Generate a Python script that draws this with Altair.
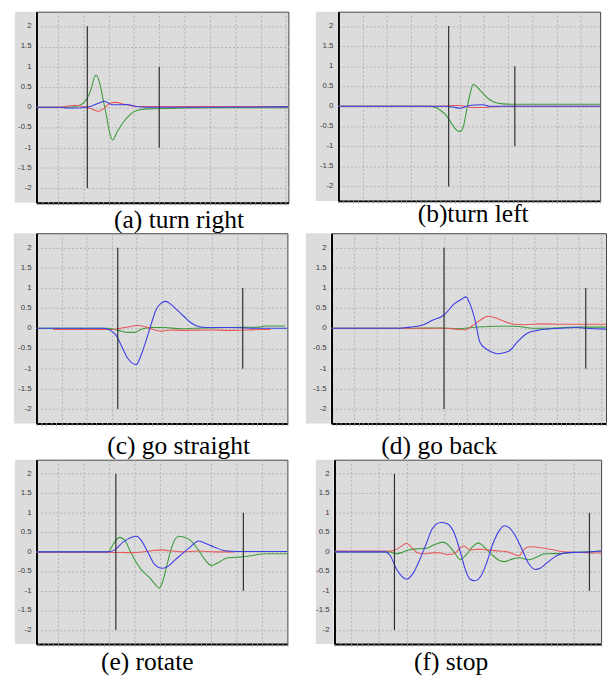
import altair as alt
import pandas as pd

# ---------------- shared axis data ----------------
Y_TICKS = [2, 1.5, 1, 0.5, 0, -0.5, -1, -1.5, -2]
Y_LABELS = ["2", "1.5", "1", "0.5", "0", "-0.5", "-1", "-1.5", "-2"]
X_GRID = [10, 20, 30, 40, 50, 60, 70, 80, 90, 100, 110, 120]
X_MINOR = list(range(0, 124, 2))
SERIES = ["green", "red", "blue"]
COLORS = ["#3c9c3c", "#e65a5a", "#3c3ce6"]
Y_DOMAIN = [-2.36, 2.36]

# ---------------- (a) turn right ----------------
A_GREEN_X = [1.5, 13.8, 17.7, 20.0, 22.2, 23.5, 24.5, 25.2, 26.7, 28.0, 29.1, 30.3, 31.6, 33.2, 35.1, 37.7, 39.7, 42.3, 46.1, 60, 80, 101]
A_GREEN_Y = [0, 0, 0.03, 0.1, 0.3, 0.54, 0.76, 0.79, 0.54, 0.14, -0.19, -0.6, -0.81, -0.63, -0.43, -0.23, -0.12, -0.06, -0.04, -0.02, -0.01, -0.01]
A_RED_X = [1.5, 11.2, 13.8, 17.0, 19.0, 22.8, 26.1, 28.3, 30.6, 32.5, 37.1, 41.0, 60, 101]
A_RED_Y = [0, 0, 0.03, 0.05, 0.03, -0.03, -0.1, -0.02, 0.1, 0.12, 0.06, 0.02, 0.02, 0.02]
A_BLUE_X = [1.5, 11.2, 14, 17.0, 19.5, 22.8, 26.0, 28.3, 30.0, 31.3, 34.5, 37.1, 41.0, 44.8, 60, 101]
A_BLUE_Y = [0, 0, -0.02, -0.02, -0.01, 0.02, 0.1, 0.15, 0.1, 0.06, 0.06, 0.07, 0.02, 0.0, 0.0, 0.01]
A_MARK_X = [21.6, 50]
A_MARK_LO = [-2, -1]
A_MARK_HI = [2, 1]

# ---------------- (b) turn left ----------------
B_GREEN_X = [0, 37.4, 39.4, 42.1, 44.8, 46.9, 48.9, 50.2, 51.6, 52.9, 54.3, 55.6, 57.7, 59.7, 61.7, 64.4, 67.8, 71.8, 108]
B_GREEN_Y = [0, 0, -0.02, -0.1, -0.25, -0.45, -0.6, -0.63, -0.5, -0.1, 0.3, 0.55, 0.45, 0.32, 0.2, 0.1, 0.06, 0.05, 0.05]
B_RED_X = [0, 44.5, 47.2, 50.2, 52.9, 55.6, 61.0, 64, 73.2, 108]
B_RED_Y = [0, 0, 0.02, 0.02, -0.01, -0.03, -0.03, -0.01, 0, 0]
B_BLUE_X = [0, 44.5, 47.5, 50.2, 52.9, 55.6, 59.7, 62.4, 108]
B_BLUE_Y = [0, 0, -0.02, -0.05, 0.0, 0.03, 0.04, 0.0, 0.0]
B_MARK_X = [45.5, 72.8]
B_MARK_LO = [-2, -1]
B_MARK_HI = [2, 1]

# ---------------- (c) go straight ----------------
C_GREEN_X = [0, 28.7, 32.6, 36.6, 39.2, 41.8, 45.7, 50.9, 57.4, 63, 77.0, 88.7, 91.3, 99.1]
C_GREEN_Y = [0, 0, -0.05, -0.1, -0.1, -0.02, 0.02, 0.02, -0.01, 0.0, 0.02, 0.03, 0.06, 0.06]
C_RED_X = [6.6, 30, 35.3, 40.5, 43.7, 49.6, 53.5, 58.7, 69, 77, 90, 93.3]
C_RED_Y = [-0.03, -0.03, 0.02, 0.07, 0.03, -0.07, -0.04, -0.05, -0.04, -0.05, -0.03, -0.03]
C_BLUE_X = [0, 26.1, 28.7, 32.0, 34.0, 35.9, 37.9, 39.8, 41.8, 43.7, 45.7, 47.6, 49.6, 51.6, 53.5, 56.1, 58.7, 61.3, 63.9, 67.8, 77.0, 90, 100]
C_BLUE_Y = [0, 0, -0.03, -0.2, -0.45, -0.7, -0.85, -0.9, -0.65, -0.3, 0.1, 0.45, 0.62, 0.67, 0.6, 0.45, 0.3, 0.15, 0.06, 0.02, 0.02, 0.0, 0.0]
C_MARK_X = [32.4, 82.2]
C_MARK_LO = [-2, -1]
C_MARK_HI = [2, 1]

# ---------------- (d) go back ----------------
D_GREEN_X = [0, 34.7, 47.8, 56.5, 62.3, 68.1, 74, 81.2, 90, 97.2, 103, 110.3, 122]
D_GREEN_Y = [0, 0, 0.01, -0.01, 0.02, 0.04, 0.05, 0.05, 0.0, 0.0, 0.02, 0.03, 0.03]
D_RED_X = [0, 50.7, 55.1, 59.4, 62.3, 66, 69.6, 72.5, 76.9, 81.2, 85.6, 88.5, 92.8, 103, 122]
D_RED_Y = [0, 0, -0.02, -0.04, 0.05, 0.2, 0.3, 0.27, 0.17, 0.1, 0.09, 0.1, 0.11, 0.1, 0.1]
D_BLUE_X = [0, 30.3, 34.7, 39.8, 44.9, 50, 54.4, 58, 59.7, 61.6, 63.8, 66, 68.9, 71.8, 73.7, 76.9, 79.3, 82.7, 87, 91.4, 95.8, 101.6, 108.8, 113.2, 122]
D_BLUE_Y = [0, 0, 0.03, 0.07, 0.2, 0.33, 0.6, 0.73, 0.78, 0.6, 0.2, -0.35, -0.52, -0.6, -0.63, -0.6, -0.55, -0.33, -0.12, -0.05, -0.02, 0.0, 0.02, 0.0, -0.02]
D_MARK_X = [50, 113]
D_MARK_LO = [-2, -1]
D_MARK_HI = [2, 1]

# ---------------- (e) rotate ----------------
E_GREEN_X = [1.4, 29.6, 31.6, 34.1, 36.1, 38.0, 40.0, 42.5, 45.7, 48.3, 49.6, 50.8, 52.8, 54.7, 57.3, 59.2, 61.8, 65.0, 67.6, 70.1, 72.7, 76.6, 80.4, 85.6, 90.7, 100]
E_GREEN_Y = [0, 0, 0.2, 0.37, 0.3, 0.05, -0.2, -0.45, -0.65, -0.85, -0.93, -0.8, -0.3, 0.15, 0.4, 0.38, 0.3, 0.05, -0.2, -0.35, -0.28, -0.15, -0.14, -0.1, -0.05, -0.05]
E_RED_X = [1.4, 29.6, 39.3, 44.4, 50.8, 53.4, 58.6, 65.0, 71.4, 79.1]
E_RED_Y = [-0.01, -0.01, -0.02, 0.01, 0.05, 0.03, 0.0, 0.02, 0.0, 0.0]
E_BLUE_X = [1.4, 29.6, 32.2, 35.4, 38.6, 40.8, 42.5, 45.1, 47.6, 50.8, 52.8, 56.0, 58.6, 61.8, 65.0, 67.6, 71.4, 75.3, 80.4, 100]
E_BLUE_Y = [0, 0, 0.05, 0.25, 0.37, 0.4, 0.3, 0.0, -0.3, -0.42, -0.38, -0.2, -0.05, 0.12, 0.28, 0.22, 0.12, 0.03, 0.01, 0.01]
E_MARK_X = [32.6, 82.7]
E_MARK_LO = [-2, -1]
E_MARK_HI = [2, 1]

# ---------------- (f) stop ----------------
F_GREEN_X = [4, 24.1, 25.9, 28.2, 30.6, 34.1, 37.0, 39.9, 42.9, 44.6, 47.0, 49.3, 51.7, 54.0, 55.8, 57.5, 60.4, 63.4, 65.1, 68.1, 70.4, 73.9, 76.3, 79.8, 86.8, 90.3, 95.3, 100]
F_GREEN_Y = [0, 0, -0.05, -0.02, 0.05, 0.08, 0.09, 0.18, 0.25, 0.2, 0.0, -0.2, -0.05, 0.15, 0.23, 0.15, -0.05, -0.22, -0.25, -0.18, -0.15, -0.2, -0.15, -0.05, -0.04, -0.01, 0.0, 0.02]
F_RED_X = [4, 24.1, 25.9, 28.2, 30.0, 31.7, 34.1, 36.4, 39.9, 42.3, 44.6, 47.0, 49.3, 50.5, 52.8, 56.3, 58.7, 63.4, 66.3, 69.2, 70.4, 72.8, 75.1, 78.6, 82.1, 86.8, 90.3, 96.2, 100]
F_RED_Y = [0.02, 0.02, 0.05, 0.15, 0.22, 0.12, -0.03, -0.05, -0.02, -0.03, -0.07, -0.05, 0.1, 0.15, 0.05, 0.07, 0.05, 0.02, 0.0, -0.08, -0.1, 0.1, 0.13, 0.1, 0.06, 0.0, -0.01, -0.03, -0.03]
F_BLUE_X = [4, 22.3, 24.1, 26.4, 28.2, 30.0, 32.3, 34.7, 37.0, 39.3, 42.3, 44.6, 47.0, 49.3, 51.1, 52.8, 54.6, 56.9, 58.7, 61.0, 63.4, 65.1, 66.9, 69.2, 71.6, 73.9, 76.3, 78.0, 81.0, 84.5, 88.0, 92.7, 96.2, 100]
F_BLUE_Y = [0, 0, -0.1, -0.45, -0.62, -0.7, -0.55, -0.2, 0.2, 0.6, 0.75, 0.72, 0.5, 0.0, -0.45, -0.7, -0.74, -0.6, -0.3, 0.2, 0.55, 0.67, 0.62, 0.4, 0.05, -0.3, -0.45, -0.42, -0.25, -0.08, -0.02, -0.01, 0.0, 0.02]
F_MARK_X = [25.6, 95.8]
F_MARK_LO = [-2, -1]
F_MARK_HI = [2, 1]

BG = "#dcdcdc"
GRID = "#b2b2b2"


def make_panel(series, mark_x, mark_lo, mark_hi, xdom, w, h, label_w, caption, cap_dx, cap_off):
    rows = []
    for name, (xs, ys) in zip(SERIES, series):
        for x, y in zip(xs, ys):
            rows.append({"s": name, "x": x, "y": y})
    df = pd.DataFrame(rows)
    xscale = alt.Scale(domain=xdom, nice=False, zero=False)
    yscale = alt.Scale(domain=Y_DOMAIN, nice=False, zero=False)
    grid_vals = [v for v in X_GRID if xdom[0] < v < xdom[1]]
    minor_vals = [v for v in X_MINOR if xdom[0] <= v <= xdom[1]]
    xaxis = alt.Axis(values=grid_vals, grid=True, gridColor=GRID, gridDash=[2, 2], gridWidth=1,
                     ticks=False, labels=False, domain=True, domainColor="#000000", domainWidth=2,
                     title=None, orient="bottom")
    xminor = alt.Axis(values=minor_vals, grid=False, ticks=True, tickSize=3, tickColor="#8a8a8a",
                      tickWidth=1, labels=False, domain=False, title=None, orient="bottom", offset=-1)
    yaxis = alt.Axis(values=Y_TICKS, grid=True, gridColor=GRID, gridDash=[2, 2], gridWidth=1,
                     ticks=False, labels=False, domain=True, domainColor="#000000", domainWidth=2,
                     title=None)

    bg = alt.Chart(pd.DataFrame({"k": [0]})).mark_rect(color=BG).encode(
        x=alt.value(-label_w), x2=alt.value(-1), y=alt.value(0), y2=alt.value(h)
    )
    lines = alt.Chart(df).mark_line(strokeWidth=1.1, interpolate="monotone", clip=True).encode(
        x=alt.X("x:Q", scale=xscale, axis=xaxis),
        y=alt.Y("y:Q", scale=yscale, axis=yaxis),
        color=alt.Color("s:N", scale=alt.Scale(domain=SERIES, range=COLORS), legend=None),
    )
    mdf = pd.DataFrame({"x": mark_x, "lo": mark_lo, "hi": mark_hi})
    rules = alt.Chart(mdf).mark_rule(color="#303030", strokeWidth=1.2).encode(
        x=alt.X("x:Q", scale=xscale, axis=xminor),
        y=alt.Y("lo:Q", scale=yscale, axis=yaxis),
        y2="hi:Q",
    )
    ldf = pd.DataFrame({"v": Y_TICKS, "t": Y_LABELS})
    labels = alt.Chart(ldf).mark_text(align="right", baseline="middle", fontSize=8,
                                      font="Liberation Sans", color="#3a3a3a").encode(
        x=alt.value(-5),
        y=alt.Y("v:Q", scale=yscale, axis=yaxis),
        text="t:N",
    )
    return alt.layer(bg, lines, rules, labels).resolve_axis(x="independent").properties(
        width=w, height=h,
        title=alt.TitleParams(caption, orient="bottom", anchor="middle", frame="group", dx=cap_dx,
                              offset=cap_off, fontSize=26, font="Liberation Serif",
                              fontWeight="normal", color="#000000"),
    )


pa = make_panel([(A_GREEN_X, A_GREEN_Y), (A_RED_X, A_RED_Y), (A_BLUE_X, A_BLUE_Y)],
                A_MARK_X, A_MARK_LO, A_MARK_HI, [1.5, 101], 257, 195, 22, "(a) turn right", 17, 2)
pb = make_panel([(B_GREEN_X, B_GREEN_Y), (B_RED_X, B_RED_Y), (B_BLUE_X, B_BLUE_Y)],
                B_MARK_X, B_MARK_LO, B_MARK_HI, [0, 108], 267, 193, 23, "(b)turn left", 4, -2)
pc = make_panel([(C_GREEN_X, C_GREEN_Y), (C_RED_X, C_RED_Y), (C_BLUE_X, C_BLUE_Y)],
                C_MARK_X, C_MARK_LO, C_MARK_HI, [0, 100], 256, 194, 23, "(c) go straight", 17, 8)
pd_ = make_panel([(D_GREEN_X, D_GREEN_Y), (D_RED_X, D_RED_Y), (D_BLUE_X, D_BLUE_Y)],
                 D_MARK_X, D_MARK_LO, D_MARK_HI, [0, 122], 280, 194, 26, "(d) go back", -30, 8)
pe = make_panel([(E_GREEN_X, E_GREEN_Y), (E_RED_X, E_RED_Y), (E_BLUE_X, E_BLUE_Y)],
                E_MARK_X, E_MARK_LO, E_MARK_HI, [1.4, 100], 256, 188, 22, "(e) rotate", -15, 3)
pf = make_panel([(F_GREEN_X, F_GREEN_Y), (F_RED_X, F_RED_Y), (F_BLUE_X, F_BLUE_Y)],
                F_MARK_X, F_MARK_LO, F_MARK_HI, [4, 100], 272, 188, 19, "(f) stop", -17, 3)

row1 = alt.hconcat(pa, pb, spacing=26)
row2 = alt.hconcat(pc, pd_, spacing=17)
row3 = alt.hconcat(pe, pf, spacing=27)

chart = alt.vconcat(row1, row2, row3, spacing=-5).properties(
    padding={"left": 5, "top": -4, "right": 0, "bottom": 0},
    background="white",
).configure_view(fill=BG, stroke="#444444", strokeWidth=1)

chart.save("out.html", embed_options={"renderer": "svg", "actions": False})
